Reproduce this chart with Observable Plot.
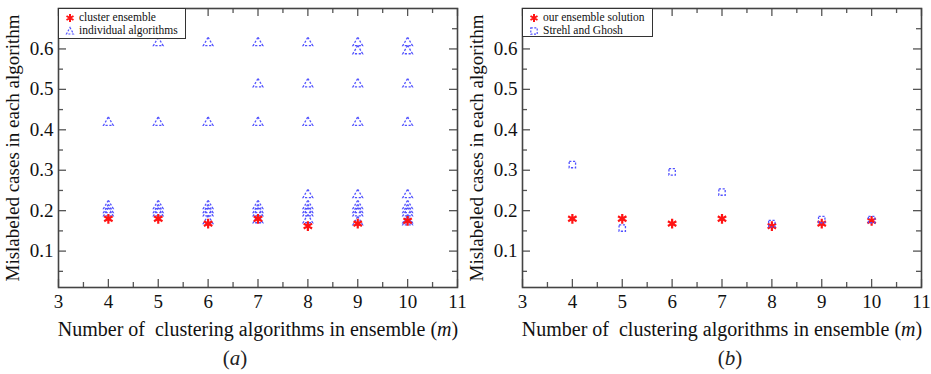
<!DOCTYPE html>
<html>
<head>
<meta charset="utf-8">
<script src="https://cdn.jsdelivr.net/npm/d3@7"></script>
<script src="https://cdn.jsdelivr.net/npm/@observablehq/plot@0.6"></script>
<style>
  body { margin: 0; background: white; font-family: 'Liberation Serif', 'Times New Roman', serif; }
  #wrap { position: relative; width: 931px; height: 374px; }
  .panel { position: absolute; top: 0; }
  .panel svg, .panel svg text { font-family: 'Liberation Serif', 'Times New Roman', serif !important; }
  .legend { position: absolute; background: white; border: 1px solid #333; font-size: 11.5px; line-height: 13px; color: #111; box-sizing: border-box; padding: 2px 0 0 6px; }
  .legend div { white-space: nowrap; display: flex; align-items: center; }
  .legend svg { margin-right: 4px; }
  .caption { position: absolute; top: 346px; font-size: 21px; width: 60px; text-align: center; color: #222; }
</style>
</head>
<body>
<div id="wrap"></div>
<script>
// ---- data ----
const mValues = [4, 5, 6, 7, 8, 9, 10];
const ensembleError = [0.180, 0.180, 0.168, 0.180, 0.162, 0.168, 0.175];
const strehlGhoshError = [0.314, 0.157, 0.296, 0.246, 0.168, 0.178, 0.178];
const individual4 = [0.418, 0.212, 0.202, 0.194];
const individual5 = [0.615, 0.418, 0.212, 0.202, 0.194];
const individual6 = [0.615, 0.418, 0.212, 0.202, 0.194, 0.175];
const individual7 = [0.615, 0.513, 0.418, 0.212, 0.202, 0.194, 0.177];
const individual8 = [0.615, 0.513, 0.418, 0.239, 0.212, 0.202, 0.194, 0.177];
const individual9 = [0.615, 0.595, 0.513, 0.418, 0.239, 0.212, 0.202, 0.194, 0.172];
const individual10 = [0.615, 0.595, 0.513, 0.418, 0.239, 0.212, 0.202, 0.194, 0.177, 0.172];
const individualLists = [individual4, individual5, individual6, individual7, individual8, individual9, individual10];
const xMajorTicks = [3, 4, 5, 6, 7, 8, 9, 10, 11];
const xMinorTicks = [3.5, 4.5, 5.5, 6.5, 7.5, 8.5, 9.5, 10.5];
const yMajorTicks = [0.1, 0.2, 0.3, 0.4, 0.5, 0.6];
const yMinorTicks = [0.05, 0.15, 0.25, 0.35, 0.45, 0.55, 0.65];
const xLabel = "Number of\u00a0 clustering algorithms in ensemble (";
const yLabel = "Mislabeled cases in each algorithm";

const ensembleRows = mValues.map((m, i) => ({m, v: ensembleError[i]}));
const strehlRows = mValues.map((m, i) => ({m, v: strehlGhoshError[i]}));
const individualRows = mValues.flatMap((m, i) => individualLists[i].map(v => ({m, v})));

const RED = "#ff1414", BLUE = "#5252ff";

function panel({width, marginLeft, marginRight, marks}) {
  const height = 342, marginTop = 8, marginBottom = 55;
  const iw = width - marginLeft - marginRight, ih = height - marginTop - marginBottom;
  const tickColor = "#555";
  const plot = Plot.plot({
    width, height, marginLeft, marginRight, marginTop, marginBottom,
    style: "font-family: 'Liberation Serif', 'Times New Roman', serif; font-size: 19px; color: #111; background: white;",
    x: {domain: [3, 11]},
    y: {domain: [0.01, 0.70]},
    marks: [
      Plot.ruleY(yMajorTicks, {y: d => d, insetRight: iw - 8, stroke: tickColor, strokeWidth: 1.3}),
      Plot.ruleY(yMajorTicks, {y: d => d, insetLeft: iw - 8, stroke: tickColor, strokeWidth: 1.3}),
      Plot.ruleY(yMinorTicks, {y: d => d, insetRight: iw - 5, stroke: tickColor, strokeWidth: 1.3}),
      Plot.ruleY(yMinorTicks, {y: d => d, insetLeft: iw - 5, stroke: tickColor, strokeWidth: 1.3}),
      Plot.ruleX(xMajorTicks, {x: d => d, insetTop: ih - 8, stroke: tickColor, strokeWidth: 1.3}),
      Plot.ruleX(xMajorTicks, {x: d => d, insetBottom: ih - 8, stroke: tickColor, strokeWidth: 1.3}),
      Plot.ruleX(xMinorTicks, {x: d => d, insetTop: ih - 5, stroke: tickColor, strokeWidth: 1.3}),
      Plot.ruleX(xMinorTicks, {x: d => d, insetBottom: ih - 5, stroke: tickColor, strokeWidth: 1.3}),
      Plot.axisX({ticks: xMajorTicks, tickSize: 0, tickPadding: 7, tickFormat: d => String(d),
        label: xLabel, labelAnchor: "center", labelOffset: 48, labelArrow: "none", fontSize: 20}),
      Plot.axisY({ticks: yMajorTicks, tickSize: 0, tickPadding: 5, tickFormat: d => d.toFixed(1),
        label: yLabel, labelAnchor: "center", labelOffset: 53, labelArrow: "none"}),
      ...marks,
      Plot.frame({stroke: "#444", strokeWidth: 1.6})
    ]
  });
  const lab = d3.select(plot).select('[aria-label="x-axis label"] text');
  if (!lab.empty()) {
    lab.text(null);
    lab.attr("font-size", 20).style("font-size", "20px");
    lab.append("tspan").text(xLabel);
    lab.append("tspan").attr("font-style", "italic").text("m");
    lab.append("tspan").text(")");
  }
  d3.select(plot).selectAll('[aria-label="x-axis tick label"] text').style("font-size", "19px");
  return plot;
}

const plotA = panel({
  width: 466, marginLeft: 58, marginRight: 9,
  marks: [
    Plot.dot(individualRows, {x: "m", y: "v", symbol: "triangle", r: 3.6, stroke: BLUE, strokeWidth: 1.3, strokeDasharray: "2.2,1.6", fill: "none"}),
    Plot.dot(ensembleRows, {x: "m", y: "v", symbol: "asterisk", r: 4.6, stroke: RED, strokeWidth: 2.2})
  ]
});
const plotB = panel({
  width: 465, marginLeft: 56, marginRight: 10,
  marks: [
    Plot.dot(ensembleRows, {x: "m", y: "v", symbol: "asterisk", r: 4.6, stroke: RED, strokeWidth: 2.2}),
    Plot.dot(strehlRows, {x: "m", y: "v", symbol: "square", r: 3.6, stroke: BLUE, strokeWidth: 1.3, strokeDasharray: "2.2,1.6", fill: "none"})
  ]
});

const wrap = document.getElementById("wrap");
function addPanel(plot, left, legendItems, legendBox, caption, captionCenter) {
  const p = document.createElement("div");
  p.className = "panel";
  p.style.left = left + "px";
  p.appendChild(plot);
  wrap.appendChild(p);
  const lg = document.createElement("div");
  lg.className = "legend";
  Object.assign(lg.style, {left: legendBox[0] + "px", top: legendBox[1] + "px", width: legendBox[2] + "px", height: legendBox[3] + "px"});
  legendItems.forEach(([sym, txt]) => {
    const row = document.createElement("div");
    row.innerHTML = sym + "<span>" + txt + "</span>";
    lg.appendChild(row);
  });
  wrap.appendChild(lg);
  const c = document.createElement("div");
  c.className = "caption";
  c.style.left = (captionCenter - 30) + "px";
  c.innerHTML = "(<i>" + caption + "</i>)";
  wrap.appendChild(c);
}
const astSym = `<svg width="10" height="10" viewBox="-5 -5 10 10"><path d="M0,-4V4M-3.5,-2L3.5,2M-3.5,2L3.5,-2" stroke="${RED}" stroke-width="2" fill="none"/></svg>`;
const triSym = `<svg width="10" height="10" viewBox="-5 -5 10 10"><path d="M0,-3.5L3.5,3L-3.5,3Z" stroke="${BLUE}" stroke-width="1.2" stroke-dasharray="2,1.5" fill="none"/></svg>`;
const sqSym = `<svg width="10" height="10" viewBox="-5 -5 10 10"><rect x="-3.2" y="-3.2" width="6.4" height="6.4" stroke="${BLUE}" stroke-width="1.2" stroke-dasharray="2,1.5" fill="none"/></svg>`;

addPanel(plotA, 0, [[astSym, "cluster ensemble"], [triSym, "individual algorithms"]], [58, 8, 128, 31], "a", 235);
addPanel(plotB, 466, [[astSym, "our ensemble solution"], [sqSym, "Strehl and Ghosh"]], [522, 8, 131, 29], "b", 730);
</script>
</body>
</html>
